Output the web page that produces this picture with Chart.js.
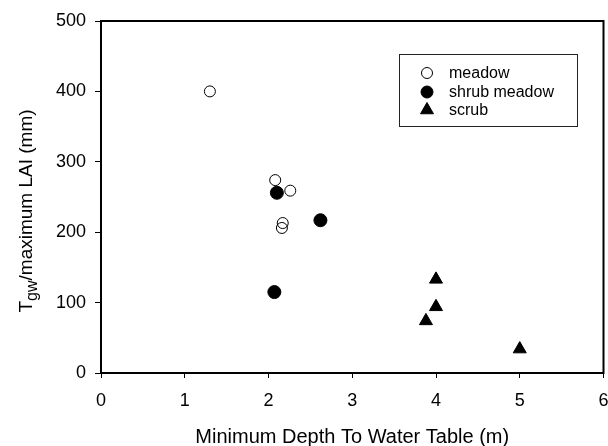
<!DOCTYPE html>
<html>
<head>
<meta charset="utf-8">
<script src="https://cdn.jsdelivr.net/npm/chart.js@4"></script>
<style>
  html, body { margin: 0; padding: 0; background: #fff; overflow: hidden; width: 608px; height: 446px; }
  canvas { display: block; }
</style>
</head>
<body>
<canvas id="chart" width="612" height="446"></canvas>
<script>
const seriesNames = ['meadow', 'shrub meadow', 'scrub'];

const meadowX = [1.3, 2.08, 2.26, 2.17, 2.16];
const meadowY = [400, 274, 259, 213, 206];

const shrubX = [2.10, 2.62, 2.07];
const shrubY = [256, 217, 115];

const scrubX = [4.0, 4.0, 3.88, 5.0];
const scrubY = [133, 94, 74, 34];

const xTicks = [0, 1, 2, 3, 4, 5, 6];
const yTicks = [0, 100, 200, 300, 400, 500];

const xTitle = 'Minimum Depth To Water Table (m)';
const yTitle = ['T', 'gw', '/maximum LAI (mm)'];

const FONT = "'Liberation Sans', Arial, Helvetica, sans-serif";

function pts(xs, ys) {
  return xs.map((x, i) => ({ x: x, y: ys[i] }));
}

function drawMarker(ctx, style, x, y, r, fill) {
  ctx.beginPath();
  if (style === 'triangle') {
    let rad = 0;
    ctx.moveTo(x + Math.sin(rad) * r, y - Math.cos(rad) * r);
    rad += Math.PI * 2 / 3;
    ctx.lineTo(x + Math.sin(rad) * r, y - Math.cos(rad) * r);
    rad += Math.PI * 2 / 3;
    ctx.lineTo(x + Math.sin(rad) * r, y - Math.cos(rad) * r);
    ctx.closePath();
  } else {
    ctx.arc(x, y, r, 0, Math.PI * 2);
  }
  if (fill) { ctx.fillStyle = '#000'; ctx.fill(); }
  ctx.strokeStyle = '#000';
  ctx.lineWidth = 1;
  ctx.stroke();
}

// frame, axis titles and the boxed legend
const decor = {
  id: 'decor',
  afterDraw(chart) {
    const ctx = chart.ctx;
    const a = chart.chartArea;
    ctx.save();
    ctx.strokeStyle = '#000';
    ctx.lineWidth = 2;
    ctx.strokeRect(a.left, a.top, a.right - a.left, a.bottom - a.top);

    // x title
    ctx.fillStyle = '#000';
    ctx.font = '20px ' + FONT;
    ctx.textAlign = 'center';
    ctx.textBaseline = 'alphabetic';
    ctx.fillText(xTitle, (a.left + a.right) / 2, 443);

    // y title with subscript
    ctx.save();
    ctx.translate(32, 211);
    ctx.rotate(-Math.PI / 2);
    ctx.textAlign = 'left';
    ctx.textBaseline = 'alphabetic';
    const big = '19px ' + FONT, small = '16px ' + FONT;
    ctx.font = big;
    const w0 = ctx.measureText(yTitle[0]).width;
    const w2 = ctx.measureText(yTitle[2]).width;
    ctx.font = small;
    const w1 = ctx.measureText(yTitle[1]).width;
    let x = -(w0 + w1 + w2) / 2;
    ctx.font = big;
    ctx.fillText(yTitle[0], x, 0);
    x += w0;
    ctx.font = small;
    ctx.fillText(yTitle[1], x, 5);
    x += w1;
    ctx.font = big;
    ctx.fillText(yTitle[2], x, 0);
    ctx.restore();

    // legend
    ctx.lineWidth = 1;
    ctx.strokeStyle = '#222';
    ctx.strokeRect(399.5, 54.5, 178, 72);
    ctx.font = '16px ' + FONT;
    ctx.textAlign = 'left';
    ctx.textBaseline = 'middle';
    ctx.fillStyle = '#000';
    const rows = [73, 92, 110];
    chart.data.datasets.forEach((ds, i) => {
      const r = ds.pointStyle === 'triangle' ? 7.5 : (ds.pointBackgroundColor === '#000' ? 6 : 5.5);
      drawMarker(ctx, ds.pointStyle, 427, rows[i], r, ds.pointBackgroundColor === '#000');
      ctx.fillStyle = '#000';
      ctx.fillText(ds.label, 449, rows[i] + 1);
    });
    ctx.restore();
  }
};

new Chart(document.getElementById('chart').getContext('2d'), {
  type: 'scatter',
  data: {
    datasets: [
      { label: seriesNames[0], data: pts(meadowX, meadowY), pointStyle: 'circle', pointRadius: 5.5,
        pointBackgroundColor: 'rgba(0,0,0,0)', pointBorderColor: '#000', pointBorderWidth: 1, order: 3 },
      { label: seriesNames[1], data: pts(shrubX, shrubY), pointStyle: 'circle', pointRadius: 6.5,
        pointBackgroundColor: '#000', pointBorderColor: '#000', pointBorderWidth: 1, order: 2 },
      { label: seriesNames[2], data: pts(scrubX, scrubY), pointStyle: 'triangle', pointRadius: 7.5,
        pointBackgroundColor: '#000', pointBorderColor: '#000', pointBorderWidth: 1, order: 1 }
    ]
  },
  options: {
    responsive: false,
    animation: false,
    layout: { padding: { left: 0, right: 0, top: 21, bottom: 0 } },
    plugins: { legend: { display: false }, tooltip: { enabled: false } },
    scales: {
      x: {
        type: 'linear', min: 0, max: 6,
        afterBuildTicks: s => { s.ticks = xTicks.map(v => ({ value: v })); },
        ticks: { color: '#000', font: { family: FONT, size: 18 }, padding: 12, maxRotation: 0 },
        grid: { drawOnChartArea: false, drawTicks: true, tickLength: 5, color: '#000', lineWidth: 1 },
        border: { display: true, color: '#000', width: 2 },
        afterFit: s => { s.height = 73; s.paddingLeft = 0; s.paddingRight = 0; }
      },
      y: {
        type: 'linear', min: 0, max: 500,
        afterBuildTicks: s => { s.ticks = yTicks.map(v => ({ value: v })); },
        ticks: { color: '#000', font: { family: FONT, size: 18 }, padding: 9 },
        grid: { drawOnChartArea: false, drawTicks: true, tickLength: 6, color: '#000', lineWidth: 1 },
        border: { display: true, color: '#000', width: 2 },
        afterFit: s => { s.width = 101; s.paddingTop = 0; s.paddingBottom = 0; }
      }
    }
  },
  plugins: [decor]
});
</script>
</body>
</html>
